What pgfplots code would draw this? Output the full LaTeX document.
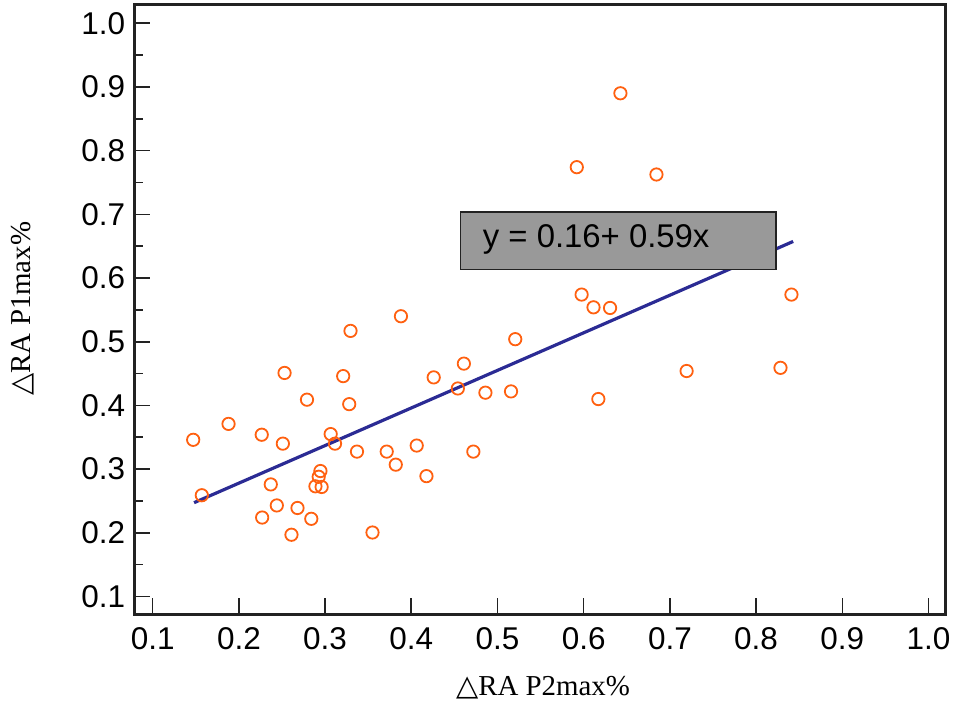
\documentclass[border=0pt]{standalone}
\usepackage{fontspec}
\usepackage{pgfplots}
\pgfplotsset{compat=1.18}
\setmainfont{Liberation Sans}
\newfontfamily\lserif{Liberation Serif}
\newfontfamily\symfont{DejaVu Sans}
\definecolor{ptorange}{RGB}{255,96,16}
\definecolor{lineblue}{RGB}{43,43,148}
\definecolor{boxgray}{RGB}{153,153,153}
\definecolor{spine}{RGB}{34,34,34}
\begin{document}
\begin{tikzpicture}
\begin{axis}[
  name=ax,
  scale only axis,
  width=407.3pt, height=306.2pt,
  xmin=0.0785, xmax=1.0196,
  ymin=0.0723, ymax=1.0297,
  xtick={0.1,0.2,...,1.0},
  ytick={0.1,0.2,...,1.0},
  minor ytick={0.15,0.25,...,0.96},
  xticklabels={0.1,0.2,0.3,0.4,0.5,0.6,0.7,0.8,0.9,1.0},
  yticklabels={0.1,0.2,0.3,0.4,0.5,0.6,0.7,0.8,0.9,1.0},
  tick align=inside,
  xtick pos=bottom, ytick pos=left,
  major tick length=8pt,
  minor tick length=4.5pt,
  every tick/.style={spine, line width=0.8pt},
  axis line style={spine, line width=1.5pt},
  /pgf/number format/assume math mode=true,
  tick label style={font=\fontsize{15.8}{18}\selectfont, black},
  xticklabel style={yshift=-3pt},
  yticklabel style={xshift=-1pt},
  xlabel={{\symfont △}RA P2max\%},
  ylabel={{\symfont △}RA P1max\%},
  label style={font=\lserif\fontsize{14.5}{16}\selectfont},
  xlabel style={at={(axis description cs:0.504,-0.12)}, anchor=center},
  ylabel style={at={(axis description cs:-0.138,0.501)}, anchor=center},
  clip=false,
]
\addplot[only marks, mark=o, mark size=3.1pt, mark options={draw=ptorange, line width=0.9pt}] coordinates {
(0.147,0.346) (0.188,0.371) (0.157,0.259) (0.253,0.451) (0.2265,0.354)
(0.251,0.340) (0.237,0.276) (0.244,0.243) (0.227,0.224) (0.261,0.197)
(0.268,0.239) (0.284,0.222) (0.279,0.409) (0.3295,0.517) (0.388,0.540)
(0.321,0.446) (0.328,0.402) (0.3065,0.355) (0.3115,0.340) (0.2946,0.297)
(0.2926,0.288) (0.2888,0.273) (0.296,0.272) (0.337,0.3275) (0.3715,0.3275)
(0.382,0.307) (0.355,0.2005) (0.4063,0.337) (0.5206,0.504) (0.461,0.4656)
(0.426,0.444) (0.454,0.4266) (0.486,0.420) (0.5157,0.422) (0.472,0.3275)
(0.4176,0.289) (0.6426,0.890) (0.592,0.774) (0.6844,0.7625) (0.5976,0.574)
(0.6114,0.554) (0.6306,0.553) (0.841,0.574) (0.7194,0.454) (0.8283,0.459)
(0.617,0.410)
};
\addplot[lineblue, line width=1.6pt, no marks] coordinates {(0.148,0.2473) (0.843,0.6574)};
\draw[fill=boxgray, draw=spine, line width=0.8pt] (axis cs:0.4573,0.6134) rectangle (axis cs:0.8228,0.7036);
\node[anchor=west, inner sep=0pt, font=\fontsize{16.5}{18}\selectfont] at (axis cs:0.4826,0.660) {y = 0.16+ 0.59x};
\end{axis}
\path[use as bounding box] ([shift={(-67.35pt,-45.65pt)}]ax.south west) rectangle ([shift={(411.15pt,308.35pt)}]ax.south west);
\end{tikzpicture}
\end{document}
